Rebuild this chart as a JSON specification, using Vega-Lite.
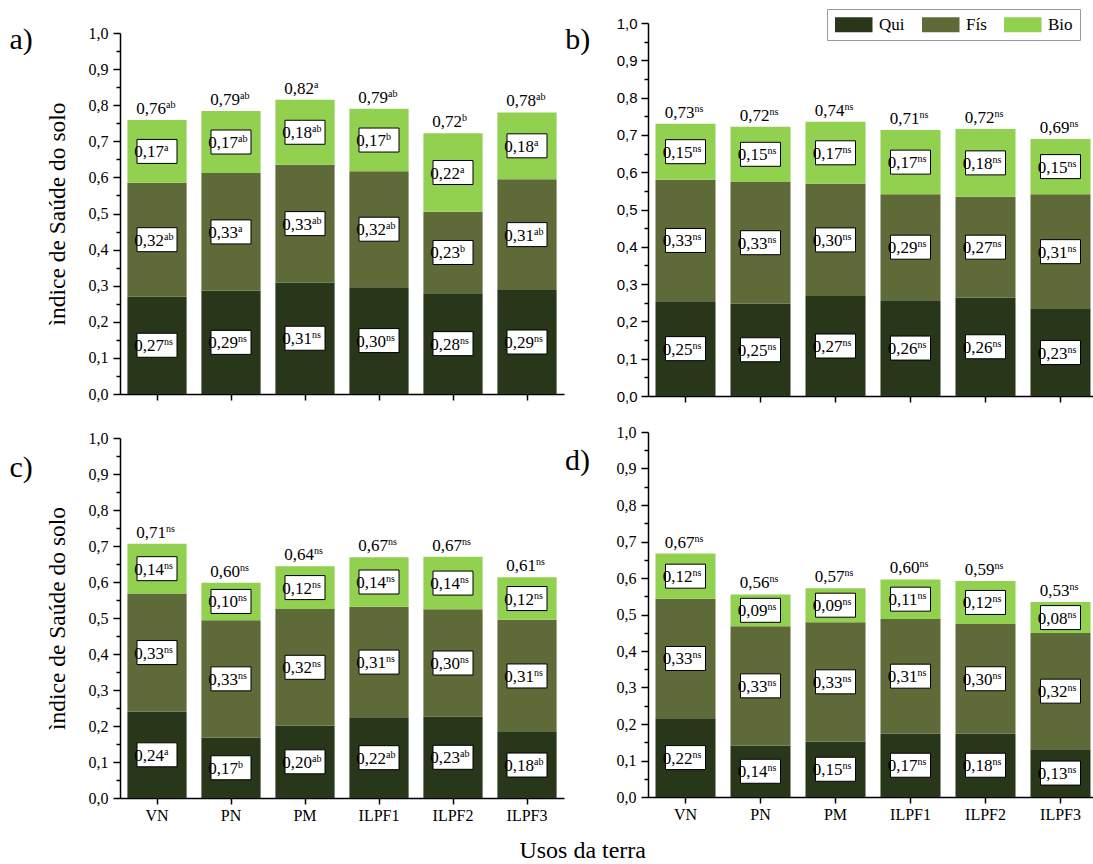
{
  "$schema": "https://vega.github.io/schema/vega-lite/v6.json",
  "background": "white",
  "padding": {"left": 9, "top": 8, "right": 0, "bottom": 0},
  "title": {"text": "Usos da terra", "orient": "bottom", "anchor": "middle", "fontSize": 24, "font": "Liberation Serif", "fontWeight": "normal", "color": "black", "offset": 16, "dx": 29},
  "datasets": {
    "a": [
      {"use":"VN","comp":"Qui","v":0.270,"lab":"0,27","sig":"ns"},
      {"use":"VN","comp":"Fís","v":0.315,"lab":"0,32","sig":"ab"},
      {"use":"VN","comp":"Bio","v":0.174,"lab":"0,17","sig":"a","tot":"0,76","tsig":"ab"},
      {"use":"PN","comp":"Qui","v":0.286,"lab":"0,29","sig":"ns"},
      {"use":"PN","comp":"Fís","v":0.326,"lab":"0,33","sig":"a"},
      {"use":"PN","comp":"Bio","v":0.172,"lab":"0,17","sig":"ab","tot":"0,79","tsig":"ab"},
      {"use":"PM","comp":"Qui","v":0.309,"lab":"0,31","sig":"ns"},
      {"use":"PM","comp":"Fís","v":0.326,"lab":"0,33","sig":"ab"},
      {"use":"PM","comp":"Bio","v":0.180,"lab":"0,18","sig":"ab","tot":"0,82","tsig":"a"},
      {"use":"ILPF1","comp":"Qui","v":0.296,"lab":"0,30","sig":"ns"},
      {"use":"ILPF1","comp":"Fís","v":0.321,"lab":"0,32","sig":"ab"},
      {"use":"ILPF1","comp":"Bio","v":0.173,"lab":"0,17","sig":"b","tot":"0,79","tsig":"ab"},
      {"use":"ILPF2","comp":"Qui","v":0.279,"lab":"0,28","sig":"ns"},
      {"use":"ILPF2","comp":"Fís","v":0.226,"lab":"0,23","sig":"b"},
      {"use":"ILPF2","comp":"Bio","v":0.217,"lab":"0,22","sig":"a","tot":"0,72","tsig":"b"},
      {"use":"ILPF3","comp":"Qui","v":0.288,"lab":"0,29","sig":"ns"},
      {"use":"ILPF3","comp":"Fís","v":0.307,"lab":"0,31","sig":"ab"},
      {"use":"ILPF3","comp":"Bio","v":0.185,"lab":"0,18","sig":"a","tot":"0,78","tsig":"ab"}
    ],
    "b": [
      {"use":"VN","comp":"Qui","v":0.254,"lab":"0,25","sig":"ns"},
      {"use":"VN","comp":"Fís","v":0.326,"lab":"0,33","sig":"ns"},
      {"use":"VN","comp":"Bio","v":0.150,"lab":"0,15","sig":"ns","tot":"0,73","tsig":"ns"},
      {"use":"PN","comp":"Qui","v":0.248,"lab":"0,25","sig":"ns"},
      {"use":"PN","comp":"Fís","v":0.326,"lab":"0,33","sig":"ns"},
      {"use":"PN","comp":"Bio","v":0.148,"lab":"0,15","sig":"ns","tot":"0,72","tsig":"ns"},
      {"use":"PM","comp":"Qui","v":0.268,"lab":"0,27","sig":"ns"},
      {"use":"PM","comp":"Fís","v":0.301,"lab":"0,30","sig":"ns"},
      {"use":"PM","comp":"Bio","v":0.166,"lab":"0,17","sig":"ns","tot":"0,74","tsig":"ns"},
      {"use":"ILPF1","comp":"Qui","v":0.257,"lab":"0,26","sig":"ns"},
      {"use":"ILPF1","comp":"Fís","v":0.284,"lab":"0,29","sig":"ns"},
      {"use":"ILPF1","comp":"Bio","v":0.172,"lab":"0,17","sig":"ns","tot":"0,71","tsig":"ns"},
      {"use":"ILPF2","comp":"Qui","v":0.264,"lab":"0,26","sig":"ns"},
      {"use":"ILPF2","comp":"Fís","v":0.270,"lab":"0,27","sig":"ns"},
      {"use":"ILPF2","comp":"Bio","v":0.182,"lab":"0,18","sig":"ns","tot":"0,72","tsig":"ns"},
      {"use":"ILPF3","comp":"Qui","v":0.233,"lab":"0,23","sig":"ns"},
      {"use":"ILPF3","comp":"Fís","v":0.308,"lab":"0,31","sig":"ns"},
      {"use":"ILPF3","comp":"Bio","v":0.148,"lab":"0,15","sig":"ns","tot":"0,69","tsig":"ns"}
    ],
    "c": [
      {"use":"VN","comp":"Qui","v":0.240,"lab":"0,24","sig":"a"},
      {"use":"VN","comp":"Fís","v":0.328,"lab":"0,33","sig":"ns"},
      {"use":"VN","comp":"Bio","v":0.138,"lab":"0,14","sig":"ns","tot":"0,71","tsig":"ns"},
      {"use":"PN","comp":"Qui","v":0.168,"lab":"0,17","sig":"b"},
      {"use":"PN","comp":"Fís","v":0.326,"lab":"0,33","sig":"ns"},
      {"use":"PN","comp":"Bio","v":0.104,"lab":"0,10","sig":"ns","tot":"0,60","tsig":"ns"},
      {"use":"PM","comp":"Qui","v":0.201,"lab":"0,20","sig":"ab"},
      {"use":"PM","comp":"Fís","v":0.324,"lab":"0,32","sig":"ns"},
      {"use":"PM","comp":"Bio","v":0.119,"lab":"0,12","sig":"ns","tot":"0,64","tsig":"ns"},
      {"use":"ILPF1","comp":"Qui","v":0.224,"lab":"0,22","sig":"ab"},
      {"use":"ILPF1","comp":"Fís","v":0.307,"lab":"0,31","sig":"ns"},
      {"use":"ILPF1","comp":"Bio","v":0.138,"lab":"0,14","sig":"ns","tot":"0,67","tsig":"ns"},
      {"use":"ILPF2","comp":"Qui","v":0.226,"lab":"0,23","sig":"ab"},
      {"use":"ILPF2","comp":"Fís","v":0.298,"lab":"0,30","sig":"ns"},
      {"use":"ILPF2","comp":"Bio","v":0.146,"lab":"0,14","sig":"ns","tot":"0,67","tsig":"ns"},
      {"use":"ILPF3","comp":"Qui","v":0.183,"lab":"0,18","sig":"ab"},
      {"use":"ILPF3","comp":"Fís","v":0.312,"lab":"0,31","sig":"ns"},
      {"use":"ILPF3","comp":"Bio","v":0.118,"lab":"0,12","sig":"ns","tot":"0,61","tsig":"ns"}
    ],
    "d": [
      {"use":"VN","comp":"Qui","v":0.216,"lab":"0,22","sig":"ns"},
      {"use":"VN","comp":"Fís","v":0.327,"lab":"0,33","sig":"ns"},
      {"use":"VN","comp":"Bio","v":0.124,"lab":"0,12","sig":"ns","tot":"0,67","tsig":"ns"},
      {"use":"PN","comp":"Qui","v":0.141,"lab":"0,14","sig":"ns"},
      {"use":"PN","comp":"Fís","v":0.327,"lab":"0,33","sig":"ns"},
      {"use":"PN","comp":"Bio","v":0.087,"lab":"0,09","sig":"ns","tot":"0,56","tsig":"ns"},
      {"use":"PM","comp":"Qui","v":0.152,"lab":"0,15","sig":"ns"},
      {"use":"PM","comp":"Fís","v":0.327,"lab":"0,33","sig":"ns"},
      {"use":"PM","comp":"Bio","v":0.093,"lab":"0,09","sig":"ns","tot":"0,57","tsig":"ns"},
      {"use":"ILPF1","comp":"Qui","v":0.174,"lab":"0,17","sig":"ns"},
      {"use":"ILPF1","comp":"Fís","v":0.314,"lab":"0,31","sig":"ns"},
      {"use":"ILPF1","comp":"Bio","v":0.108,"lab":"0,11","sig":"ns","tot":"0,60","tsig":"ns"},
      {"use":"ILPF2","comp":"Qui","v":0.174,"lab":"0,18","sig":"ns"},
      {"use":"ILPF2","comp":"Fís","v":0.300,"lab":"0,30","sig":"ns"},
      {"use":"ILPF2","comp":"Bio","v":0.118,"lab":"0,12","sig":"ns","tot":"0,59","tsig":"ns"},
      {"use":"ILPF3","comp":"Qui","v":0.131,"lab":"0,13","sig":"ns"},
      {"use":"ILPF3","comp":"Fís","v":0.318,"lab":"0,32","sig":"ns"},
      {"use":"ILPF3","comp":"Bio","v":0.085,"lab":"0,08","sig":"ns","tot":"0,53","tsig":"ns"}
    ]
  },
  "columns": 2,
  "align": "none",
  "spacing": 1,
  "resolve": {"legend": {"color": "independent"}},
  "concat": [
    {
      "spacing": 28,
      "vconcat": [
        {
          "spacing": 0,
          "vconcat": [
            {"width": 1, "height": 2, "data": {"values": []}, "mark": {"type": "point"}, "encoding": {}},
            {
              "width": 444, "height": 361,
              "title": {"text": "a)", "orient": "left", "anchor": "end", "frame": "group", "angle": 0, "align": "right", "baseline": "top", "fontSize": 30, "font": "Liberation Serif", "fontWeight": "normal", "color": "black", "offset": -11, "dy": -8},
              "data": {"name": "a"},
              "transform": [
                {"stack": "v", "groupby": ["use"], "sort": [{"field": "comp", "order": "descending"}], "as": ["y0", "y1"]},
                {"calculate": "(datum.y0 + datum.y1) / 2", "as": "ym"}
              ],
              "encoding": {
                "x": {"field": "use", "type": "nominal", "scale": {"domain": ["VN","PN","PM","ILPF1","ILPF2","ILPF3"], "paddingInner": 0.2, "paddingOuter": 0.1}, "axis": {"title": null, "labels": false, "tickSize": 6}}
              },
              "layer": [
                {"mark": {"type": "bar"}, "encoding": {
                  "y": {"field": "y1", "type": "quantitative", "scale": {"domain": [0, 1], "nice": false}, "axis": {"values": [0,0.05,0.1,0.15,0.2,0.25,0.3,0.35,0.4,0.45,0.5,0.55,0.6,0.65,0.7,0.75,0.8,0.85,0.9,0.95,1], "labelExpr": "round(datum.value*20)%2==0 ? replace(format(datum.value,'.1f'),'.',',') : ''", "tickSize": {"condition": {"test": "round(datum.value*20)%2==1", "value": 4}, "value": 7}, "labelFont": "Liberation Serif", "labelFontSize": 16, "labelPadding": 5, "labelOverlap": false, "title": "ìndice de Saúde do solo", "titleFont": "Liberation Serif", "titleFontWeight": "normal", "titleFontSize": 23.5, "titlePadding": 19}},
                  "y2": {"field": "y0"},
                  "color": {"field": "comp", "type": "nominal", "scale": {"domain": ["Qui","Fís","Bio"], "range": ["#28361a","#5e6b38","#92d050"]}, "legend": null}}},
                {"mark": {"type": "point", "shape": "M-1,-0.6H1V0.6H-1Z", "size": 1600, "filled": true, "fill": "white", "stroke": "black", "strokeWidth": 1, "opacity": 1}, "encoding": {"y": {"field": "ym", "type": "quantitative", "scale": {"domain": [0, 1], "nice": false}, "axis": {"values": [0,0.05,0.1,0.15,0.2,0.25,0.3,0.35,0.4,0.45,0.5,0.55,0.6,0.65,0.7,0.75,0.8,0.85,0.9,0.95,1], "labelExpr": "round(datum.value*20)%2==0 ? replace(format(datum.value,'.1f'),'.',',') : ''", "tickSize": {"condition": {"test": "round(datum.value*20)%2==1", "value": 4}, "value": 7}, "labelFont": "Liberation Serif", "labelFontSize": 16, "labelPadding": 5, "labelOverlap": false, "title": "ìndice de Saúde do solo", "titleFont": "Liberation Serif", "titleFontWeight": "normal", "titleFontSize": 23.5, "titlePadding": 19}}}},
                {"mark": {"type": "text", "align": "right", "baseline": "alphabetic", "dx": 7, "dy": 6, "fontSize": 17}, "encoding": {"y": {"field": "ym", "type": "quantitative", "scale": {"domain": [0, 1], "nice": false}, "axis": {"values": [0,0.05,0.1,0.15,0.2,0.25,0.3,0.35,0.4,0.45,0.5,0.55,0.6,0.65,0.7,0.75,0.8,0.85,0.9,0.95,1], "labelExpr": "round(datum.value*20)%2==0 ? replace(format(datum.value,'.1f'),'.',',') : ''", "tickSize": {"condition": {"test": "round(datum.value*20)%2==1", "value": 4}, "value": 7}, "labelFont": "Liberation Serif", "labelFontSize": 16, "labelPadding": 5, "labelOverlap": false, "title": "ìndice de Saúde do solo", "titleFont": "Liberation Serif", "titleFontWeight": "normal", "titleFontSize": 23.5, "titlePadding": 19}}, "text": {"field": "lab", "type": "nominal"}}},
                {"mark": {"type": "text", "align": "left", "baseline": "alphabetic", "dx": 7, "dy": 0, "fontSize": 10}, "encoding": {"y": {"field": "ym", "type": "quantitative", "scale": {"domain": [0, 1], "nice": false}, "axis": {"values": [0,0.05,0.1,0.15,0.2,0.25,0.3,0.35,0.4,0.45,0.5,0.55,0.6,0.65,0.7,0.75,0.8,0.85,0.9,0.95,1], "labelExpr": "round(datum.value*20)%2==0 ? replace(format(datum.value,'.1f'),'.',',') : ''", "tickSize": {"condition": {"test": "round(datum.value*20)%2==1", "value": 4}, "value": 7}, "labelFont": "Liberation Serif", "labelFontSize": 16, "labelPadding": 5, "labelOverlap": false, "title": "ìndice de Saúde do solo", "titleFont": "Liberation Serif", "titleFontWeight": "normal", "titleFontSize": 23.5, "titlePadding": 19}}, "text": {"field": "sig", "type": "nominal"}}},
                {"transform": [{"filter": "datum.comp === 'Bio'"}], "mark": {"type": "text", "align": "right", "baseline": "alphabetic", "dx": 9, "dy": -6, "fontSize": 17}, "encoding": {"y": {"field": "y1", "type": "quantitative", "scale": {"domain": [0, 1], "nice": false}, "axis": {"values": [0,0.05,0.1,0.15,0.2,0.25,0.3,0.35,0.4,0.45,0.5,0.55,0.6,0.65,0.7,0.75,0.8,0.85,0.9,0.95,1], "labelExpr": "round(datum.value*20)%2==0 ? replace(format(datum.value,'.1f'),'.',',') : ''", "tickSize": {"condition": {"test": "round(datum.value*20)%2==1", "value": 4}, "value": 7}, "labelFont": "Liberation Serif", "labelFontSize": 16, "labelPadding": 5, "labelOverlap": false, "title": "ìndice de Saúde do solo", "titleFont": "Liberation Serif", "titleFontWeight": "normal", "titleFontSize": 23.5, "titlePadding": 19}}, "text": {"field": "tot", "type": "nominal"}}},
                {"transform": [{"filter": "datum.comp === 'Bio'"}], "mark": {"type": "text", "align": "left", "baseline": "alphabetic", "dx": 9, "dy": -12, "fontSize": 10}, "encoding": {"y": {"field": "y1", "type": "quantitative", "scale": {"domain": [0, 1], "nice": false}, "axis": {"values": [0,0.05,0.1,0.15,0.2,0.25,0.3,0.35,0.4,0.45,0.5,0.55,0.6,0.65,0.7,0.75,0.8,0.85,0.9,0.95,1], "labelExpr": "round(datum.value*20)%2==0 ? replace(format(datum.value,'.1f'),'.',',') : ''", "tickSize": {"condition": {"test": "round(datum.value*20)%2==1", "value": 4}, "value": 7}, "labelFont": "Liberation Serif", "labelFontSize": 16, "labelPadding": 5, "labelOverlap": false, "title": "ìndice de Saúde do solo", "titleFont": "Liberation Serif", "titleFontWeight": "normal", "titleFontSize": 23.5, "titlePadding": 19}}, "text": {"field": "tsig", "type": "nominal"}}}
              ]
            }
          ]
        },
        {
          "width": 444, "height": 360,
          "title": {"text": "c)", "orient": "left", "anchor": "end", "frame": "group", "angle": 0, "align": "right", "baseline": "top", "fontSize": 30, "font": "Liberation Serif", "fontWeight": "normal", "color": "black", "offset": -11, "dy": 15},
          "data": {"name": "c"},
          "transform": [
            {"stack": "v", "groupby": ["use"], "sort": [{"field": "comp", "order": "descending"}], "as": ["y0", "y1"]},
            {"calculate": "(datum.y0 + datum.y1) / 2", "as": "ym"}
          ],
          "encoding": {
            "x": {"field": "use", "type": "nominal", "scale": {"domain": ["VN","PN","PM","ILPF1","ILPF2","ILPF3"], "paddingInner": 0.2, "paddingOuter": 0.1}, "axis": {"title": null, "labelAngle": 0, "labelFont": "Liberation Serif", "labelFontSize": 16, "labelPadding": 3, "tickSize": 6}}
          },
          "layer": [
            {"mark": {"type": "bar"}, "encoding": {
              "y": {"field": "y1", "type": "quantitative", "scale": {"domain": [0, 1], "nice": false}, "axis": {"values": [0,0.05,0.1,0.15,0.2,0.25,0.3,0.35,0.4,0.45,0.5,0.55,0.6,0.65,0.7,0.75,0.8,0.85,0.9,0.95,1], "labelExpr": "round(datum.value*20)%2==0 ? replace(format(datum.value,'.1f'),'.',',') : ''", "tickSize": {"condition": {"test": "round(datum.value*20)%2==1", "value": 4}, "value": 7}, "labelFont": "Liberation Serif", "labelFontSize": 16, "labelPadding": 5, "labelOverlap": false, "title": "ìndice de Saúde do solo", "titleFont": "Liberation Serif", "titleFontWeight": "normal", "titleFontSize": 23.5, "titlePadding": 19}},
              "y2": {"field": "y0"},
              "color": {"field": "comp", "type": "nominal", "scale": {"domain": ["Qui","Fís","Bio"], "range": ["#28361a","#5e6b38","#92d050"]}, "legend": null}}},
            {"mark": {"type": "point", "shape": "M-1,-0.6H1V0.6H-1Z", "size": 1600, "filled": true, "fill": "white", "stroke": "black", "strokeWidth": 1, "opacity": 1}, "encoding": {"y": {"field": "ym", "type": "quantitative", "scale": {"domain": [0, 1], "nice": false}, "axis": {"values": [0,0.05,0.1,0.15,0.2,0.25,0.3,0.35,0.4,0.45,0.5,0.55,0.6,0.65,0.7,0.75,0.8,0.85,0.9,0.95,1], "labelExpr": "round(datum.value*20)%2==0 ? replace(format(datum.value,'.1f'),'.',',') : ''", "tickSize": {"condition": {"test": "round(datum.value*20)%2==1", "value": 4}, "value": 7}, "labelFont": "Liberation Serif", "labelFontSize": 16, "labelPadding": 5, "labelOverlap": false, "title": "ìndice de Saúde do solo", "titleFont": "Liberation Serif", "titleFontWeight": "normal", "titleFontSize": 23.5, "titlePadding": 19}}}},
            {"mark": {"type": "text", "align": "right", "baseline": "alphabetic", "dx": 7, "dy": 6, "fontSize": 17}, "encoding": {"y": {"field": "ym", "type": "quantitative", "scale": {"domain": [0, 1], "nice": false}, "axis": {"values": [0,0.05,0.1,0.15,0.2,0.25,0.3,0.35,0.4,0.45,0.5,0.55,0.6,0.65,0.7,0.75,0.8,0.85,0.9,0.95,1], "labelExpr": "round(datum.value*20)%2==0 ? replace(format(datum.value,'.1f'),'.',',') : ''", "tickSize": {"condition": {"test": "round(datum.value*20)%2==1", "value": 4}, "value": 7}, "labelFont": "Liberation Serif", "labelFontSize": 16, "labelPadding": 5, "labelOverlap": false, "title": "ìndice de Saúde do solo", "titleFont": "Liberation Serif", "titleFontWeight": "normal", "titleFontSize": 23.5, "titlePadding": 19}}, "text": {"field": "lab", "type": "nominal"}}},
            {"mark": {"type": "text", "align": "left", "baseline": "alphabetic", "dx": 7, "dy": 0, "fontSize": 10}, "encoding": {"y": {"field": "ym", "type": "quantitative", "scale": {"domain": [0, 1], "nice": false}, "axis": {"values": [0,0.05,0.1,0.15,0.2,0.25,0.3,0.35,0.4,0.45,0.5,0.55,0.6,0.65,0.7,0.75,0.8,0.85,0.9,0.95,1], "labelExpr": "round(datum.value*20)%2==0 ? replace(format(datum.value,'.1f'),'.',',') : ''", "tickSize": {"condition": {"test": "round(datum.value*20)%2==1", "value": 4}, "value": 7}, "labelFont": "Liberation Serif", "labelFontSize": 16, "labelPadding": 5, "labelOverlap": false, "title": "ìndice de Saúde do solo", "titleFont": "Liberation Serif", "titleFontWeight": "normal", "titleFontSize": 23.5, "titlePadding": 19}}, "text": {"field": "sig", "type": "nominal"}}},
            {"transform": [{"filter": "datum.comp === 'Bio'"}], "mark": {"type": "text", "align": "right", "baseline": "alphabetic", "dx": 9, "dy": -6, "fontSize": 17}, "encoding": {"y": {"field": "y1", "type": "quantitative", "scale": {"domain": [0, 1], "nice": false}, "axis": {"values": [0,0.05,0.1,0.15,0.2,0.25,0.3,0.35,0.4,0.45,0.5,0.55,0.6,0.65,0.7,0.75,0.8,0.85,0.9,0.95,1], "labelExpr": "round(datum.value*20)%2==0 ? replace(format(datum.value,'.1f'),'.',',') : ''", "tickSize": {"condition": {"test": "round(datum.value*20)%2==1", "value": 4}, "value": 7}, "labelFont": "Liberation Serif", "labelFontSize": 16, "labelPadding": 5, "labelOverlap": false, "title": "ìndice de Saúde do solo", "titleFont": "Liberation Serif", "titleFontWeight": "normal", "titleFontSize": 23.5, "titlePadding": 19}}, "text": {"field": "tot", "type": "nominal"}}},
            {"transform": [{"filter": "datum.comp === 'Bio'"}], "mark": {"type": "text", "align": "left", "baseline": "alphabetic", "dx": 9, "dy": -12, "fontSize": 10}, "encoding": {"y": {"field": "y1", "type": "quantitative", "scale": {"domain": [0, 1], "nice": false}, "axis": {"values": [0,0.05,0.1,0.15,0.2,0.25,0.3,0.35,0.4,0.45,0.5,0.55,0.6,0.65,0.7,0.75,0.8,0.85,0.9,0.95,1], "labelExpr": "round(datum.value*20)%2==0 ? replace(format(datum.value,'.1f'),'.',',') : ''", "tickSize": {"condition": {"test": "round(datum.value*20)%2==1", "value": 4}, "value": 7}, "labelFont": "Liberation Serif", "labelFontSize": 16, "labelPadding": 5, "labelOverlap": false, "title": "ìndice de Saúde do solo", "titleFont": "Liberation Serif", "titleFontWeight": "normal", "titleFontSize": 23.5, "titlePadding": 19}}, "text": {"field": "tsig", "type": "nominal"}}}
          ]
        }
      ]
    },
    {
      "spacing": 20,
      "resolve": {"legend": {"color": "independent"}},
      "vconcat": [
        {
          "width": 450, "height": 373,
          "title": {"text": "b)", "orient": "left", "anchor": "end", "frame": "group", "angle": 0, "align": "right", "baseline": "top", "fontSize": 30, "font": "Liberation Serif", "fontWeight": "normal", "color": "black", "offset": 1, "dy": 2},
          "data": {"name": "b"},
          "transform": [
            {"stack": "v", "groupby": ["use"], "sort": [{"field": "comp", "order": "descending"}], "as": ["y0", "y1"]},
            {"calculate": "(datum.y0 + datum.y1) / 2", "as": "ym"}
          ],
          "encoding": {
            "x": {"field": "use", "type": "nominal", "scale": {"domain": ["VN","PN","PM","ILPF1","ILPF2","ILPF3"], "paddingInner": 0.2, "paddingOuter": 0.1}, "axis": {"title": null, "labels": false, "tickSize": 6}}
          },
          "layer": [
            {"mark": {"type": "bar"}, "encoding": {
              "y": {"field": "y1", "type": "quantitative", "scale": {"domain": [0, 1], "nice": false}, "axis": {"values": [0,0.05,0.1,0.15,0.2,0.25,0.3,0.35,0.4,0.45,0.5,0.55,0.6,0.65,0.7,0.75,0.8,0.85,0.9,0.95,1], "labelExpr": "round(datum.value*20)%2==0 ? replace(format(datum.value,'.1f'),'.',',') : ''", "tickSize": {"condition": {"test": "round(datum.value*20)%2==1", "value": 4}, "value": 7}, "labelFont": "Liberation Sans", "labelFontSize": 15, "labelPadding": 4, "labelOverlap": false, "title": null}},
              "y2": {"field": "y0"},
              "color": {"field": "comp", "type": "nominal", "scale": {"domain": ["Qui","Fís","Bio"], "range": ["#28361a","#5e6b38","#92d050"]}, "legend": {"orient": "none", "legendX": 179, "legendY": -14, "direction": "horizontal", "title": null, "symbolType": "M-1,-1H4V1H-1Z", "symbolSize": 225, "symbolStrokeWidth": 0, "symbolOpacity": 1, "labelFont": "Liberation Serif", "labelFontSize": 17, "labelColor": "black", "labelOffset": 28, "columnPadding": 16, "padding": 7, "strokeColor": "#999999", "fillColor": "white"}}}},
            {"mark": {"type": "point", "shape": "M-1,-0.6H1V0.6H-1Z", "size": 1600, "filled": true, "fill": "white", "stroke": "black", "strokeWidth": 1, "opacity": 1}, "encoding": {"y": {"field": "ym", "type": "quantitative", "scale": {"domain": [0, 1], "nice": false}, "axis": {"values": [0,0.05,0.1,0.15,0.2,0.25,0.3,0.35,0.4,0.45,0.5,0.55,0.6,0.65,0.7,0.75,0.8,0.85,0.9,0.95,1], "labelExpr": "round(datum.value*20)%2==0 ? replace(format(datum.value,'.1f'),'.',',') : ''", "tickSize": {"condition": {"test": "round(datum.value*20)%2==1", "value": 4}, "value": 7}, "labelFont": "Liberation Sans", "labelFontSize": 15, "labelPadding": 4, "labelOverlap": false, "title": null}}}},
            {"mark": {"type": "text", "align": "right", "baseline": "alphabetic", "dx": 7, "dy": 6, "fontSize": 17}, "encoding": {"y": {"field": "ym", "type": "quantitative", "scale": {"domain": [0, 1], "nice": false}, "axis": {"values": [0,0.05,0.1,0.15,0.2,0.25,0.3,0.35,0.4,0.45,0.5,0.55,0.6,0.65,0.7,0.75,0.8,0.85,0.9,0.95,1], "labelExpr": "round(datum.value*20)%2==0 ? replace(format(datum.value,'.1f'),'.',',') : ''", "tickSize": {"condition": {"test": "round(datum.value*20)%2==1", "value": 4}, "value": 7}, "labelFont": "Liberation Sans", "labelFontSize": 15, "labelPadding": 4, "labelOverlap": false, "title": null}}, "text": {"field": "lab", "type": "nominal"}}},
            {"mark": {"type": "text", "align": "left", "baseline": "alphabetic", "dx": 7, "dy": 0, "fontSize": 10}, "encoding": {"y": {"field": "ym", "type": "quantitative", "scale": {"domain": [0, 1], "nice": false}, "axis": {"values": [0,0.05,0.1,0.15,0.2,0.25,0.3,0.35,0.4,0.45,0.5,0.55,0.6,0.65,0.7,0.75,0.8,0.85,0.9,0.95,1], "labelExpr": "round(datum.value*20)%2==0 ? replace(format(datum.value,'.1f'),'.',',') : ''", "tickSize": {"condition": {"test": "round(datum.value*20)%2==1", "value": 4}, "value": 7}, "labelFont": "Liberation Sans", "labelFontSize": 15, "labelPadding": 4, "labelOverlap": false, "title": null}}, "text": {"field": "sig", "type": "nominal"}}},
            {"transform": [{"filter": "datum.comp === 'Bio'"}], "mark": {"type": "text", "align": "right", "baseline": "alphabetic", "dx": 9, "dy": -6, "fontSize": 17}, "encoding": {"y": {"field": "y1", "type": "quantitative", "scale": {"domain": [0, 1], "nice": false}, "axis": {"values": [0,0.05,0.1,0.15,0.2,0.25,0.3,0.35,0.4,0.45,0.5,0.55,0.6,0.65,0.7,0.75,0.8,0.85,0.9,0.95,1], "labelExpr": "round(datum.value*20)%2==0 ? replace(format(datum.value,'.1f'),'.',',') : ''", "tickSize": {"condition": {"test": "round(datum.value*20)%2==1", "value": 4}, "value": 7}, "labelFont": "Liberation Sans", "labelFontSize": 15, "labelPadding": 4, "labelOverlap": false, "title": null}}, "text": {"field": "tot", "type": "nominal"}}},
            {"transform": [{"filter": "datum.comp === 'Bio'"}], "mark": {"type": "text", "align": "left", "baseline": "alphabetic", "dx": 9, "dy": -12, "fontSize": 10}, "encoding": {"y": {"field": "y1", "type": "quantitative", "scale": {"domain": [0, 1], "nice": false}, "axis": {"values": [0,0.05,0.1,0.15,0.2,0.25,0.3,0.35,0.4,0.45,0.5,0.55,0.6,0.65,0.7,0.75,0.8,0.85,0.9,0.95,1], "labelExpr": "round(datum.value*20)%2==0 ? replace(format(datum.value,'.1f'),'.',',') : ''", "tickSize": {"condition": {"test": "round(datum.value*20)%2==1", "value": 4}, "value": 7}, "labelFont": "Liberation Sans", "labelFontSize": 15, "labelPadding": 4, "labelOverlap": false, "title": null}}, "text": {"field": "tsig", "type": "nominal"}}}
          ]
        },
        {
          "width": 450, "height": 365,
          "title": {"text": "d)", "orient": "left", "anchor": "end", "frame": "group", "angle": 0, "align": "right", "baseline": "top", "fontSize": 30, "font": "Liberation Serif", "fontWeight": "normal", "color": "black", "offset": 1, "dy": 14},
          "data": {"name": "d"},
          "transform": [
            {"stack": "v", "groupby": ["use"], "sort": [{"field": "comp", "order": "descending"}], "as": ["y0", "y1"]},
            {"calculate": "(datum.y0 + datum.y1) / 2", "as": "ym"}
          ],
          "encoding": {
            "x": {"field": "use", "type": "nominal", "scale": {"domain": ["VN","PN","PM","ILPF1","ILPF2","ILPF3"], "paddingInner": 0.2, "paddingOuter": 0.1}, "axis": {"title": null, "labelAngle": 0, "labelFont": "Liberation Serif", "labelFontSize": 16, "labelPadding": 3, "tickSize": 6}}
          },
          "layer": [
            {"mark": {"type": "bar"}, "encoding": {
              "y": {"field": "y1", "type": "quantitative", "scale": {"domain": [0, 1], "nice": false}, "axis": {"values": [0,0.05,0.1,0.15,0.2,0.25,0.3,0.35,0.4,0.45,0.5,0.55,0.6,0.65,0.7,0.75,0.8,0.85,0.9,0.95,1], "labelExpr": "round(datum.value*20)%2==0 ? replace(format(datum.value,'.1f'),'.',',') : ''", "tickSize": {"condition": {"test": "round(datum.value*20)%2==1", "value": 4}, "value": 7}, "labelFont": "Liberation Serif", "labelFontSize": 16, "labelPadding": 5, "labelOverlap": false, "title": null}},
              "y2": {"field": "y0"},
              "color": {"field": "comp", "type": "nominal", "scale": {"domain": ["Qui","Fís","Bio"], "range": ["#28361a","#5e6b38","#92d050"]}, "legend": null}}},
            {"mark": {"type": "point", "shape": "M-1,-0.6H1V0.6H-1Z", "size": 1600, "filled": true, "fill": "white", "stroke": "black", "strokeWidth": 1, "opacity": 1}, "encoding": {"y": {"field": "ym", "type": "quantitative", "scale": {"domain": [0, 1], "nice": false}, "axis": {"values": [0,0.05,0.1,0.15,0.2,0.25,0.3,0.35,0.4,0.45,0.5,0.55,0.6,0.65,0.7,0.75,0.8,0.85,0.9,0.95,1], "labelExpr": "round(datum.value*20)%2==0 ? replace(format(datum.value,'.1f'),'.',',') : ''", "tickSize": {"condition": {"test": "round(datum.value*20)%2==1", "value": 4}, "value": 7}, "labelFont": "Liberation Serif", "labelFontSize": 16, "labelPadding": 5, "labelOverlap": false, "title": null}}}},
            {"mark": {"type": "text", "align": "right", "baseline": "alphabetic", "dx": 7, "dy": 6, "fontSize": 17}, "encoding": {"y": {"field": "ym", "type": "quantitative", "scale": {"domain": [0, 1], "nice": false}, "axis": {"values": [0,0.05,0.1,0.15,0.2,0.25,0.3,0.35,0.4,0.45,0.5,0.55,0.6,0.65,0.7,0.75,0.8,0.85,0.9,0.95,1], "labelExpr": "round(datum.value*20)%2==0 ? replace(format(datum.value,'.1f'),'.',',') : ''", "tickSize": {"condition": {"test": "round(datum.value*20)%2==1", "value": 4}, "value": 7}, "labelFont": "Liberation Serif", "labelFontSize": 16, "labelPadding": 5, "labelOverlap": false, "title": null}}, "text": {"field": "lab", "type": "nominal"}}},
            {"mark": {"type": "text", "align": "left", "baseline": "alphabetic", "dx": 7, "dy": 0, "fontSize": 10}, "encoding": {"y": {"field": "ym", "type": "quantitative", "scale": {"domain": [0, 1], "nice": false}, "axis": {"values": [0,0.05,0.1,0.15,0.2,0.25,0.3,0.35,0.4,0.45,0.5,0.55,0.6,0.65,0.7,0.75,0.8,0.85,0.9,0.95,1], "labelExpr": "round(datum.value*20)%2==0 ? replace(format(datum.value,'.1f'),'.',',') : ''", "tickSize": {"condition": {"test": "round(datum.value*20)%2==1", "value": 4}, "value": 7}, "labelFont": "Liberation Serif", "labelFontSize": 16, "labelPadding": 5, "labelOverlap": false, "title": null}}, "text": {"field": "sig", "type": "nominal"}}},
            {"transform": [{"filter": "datum.comp === 'Bio'"}], "mark": {"type": "text", "align": "right", "baseline": "alphabetic", "dx": 9, "dy": -6, "fontSize": 17}, "encoding": {"y": {"field": "y1", "type": "quantitative", "scale": {"domain": [0, 1], "nice": false}, "axis": {"values": [0,0.05,0.1,0.15,0.2,0.25,0.3,0.35,0.4,0.45,0.5,0.55,0.6,0.65,0.7,0.75,0.8,0.85,0.9,0.95,1], "labelExpr": "round(datum.value*20)%2==0 ? replace(format(datum.value,'.1f'),'.',',') : ''", "tickSize": {"condition": {"test": "round(datum.value*20)%2==1", "value": 4}, "value": 7}, "labelFont": "Liberation Serif", "labelFontSize": 16, "labelPadding": 5, "labelOverlap": false, "title": null}}, "text": {"field": "tot", "type": "nominal"}}},
            {"transform": [{"filter": "datum.comp === 'Bio'"}], "mark": {"type": "text", "align": "left", "baseline": "alphabetic", "dx": 9, "dy": -12, "fontSize": 10}, "encoding": {"y": {"field": "y1", "type": "quantitative", "scale": {"domain": [0, 1], "nice": false}, "axis": {"values": [0,0.05,0.1,0.15,0.2,0.25,0.3,0.35,0.4,0.45,0.5,0.55,0.6,0.65,0.7,0.75,0.8,0.85,0.9,0.95,1], "labelExpr": "round(datum.value*20)%2==0 ? replace(format(datum.value,'.1f'),'.',',') : ''", "tickSize": {"condition": {"test": "round(datum.value*20)%2==1", "value": 4}, "value": 7}, "labelFont": "Liberation Serif", "labelFontSize": 16, "labelPadding": 5, "labelOverlap": false, "title": null}}, "text": {"field": "tsig", "type": "nominal"}}}
          ]
        }
      ]
    }
  ],
  "config": {
    "view": {"stroke": null},
    "axis": {"domainColor": "black", "tickColor": "black", "labelColor": "black", "titleColor": "black", "labelFont": "Liberation Serif", "titleFont": "Liberation Serif", "titleFontWeight": "normal", "grid": false, "domainWidth": 1.5, "tickWidth": 1.5},
    "text": {"font": "Liberation Serif", "color": "black"}
  }
}
